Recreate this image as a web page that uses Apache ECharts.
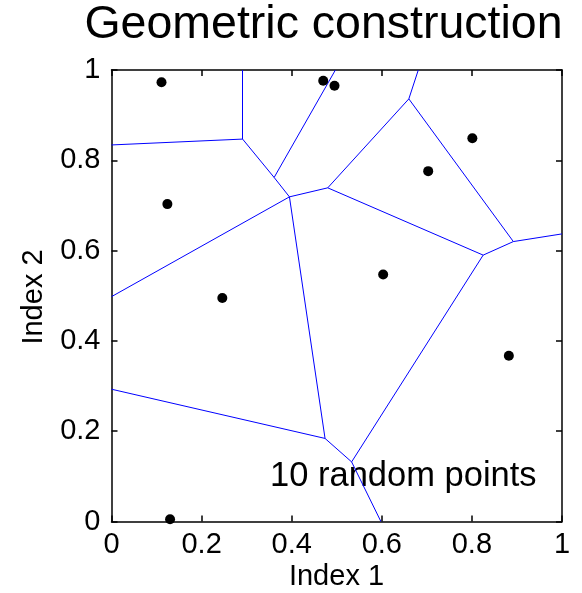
<!DOCTYPE html>
<html>
<head>
<meta charset="utf-8">
<script src="https://cdn.jsdelivr.net/npm/echarts@6/dist/echarts.min.js"></script>
<style>
html,body{margin:0;padding:0;background:#fff;}
#chart{width:582px;height:593px;}
</style>
</head>
<body>
<div id="chart"></div>
<script>
// Random points
var pointsX = [0.111, 0.470, 0.495, 0.124, 0.246, 0.801, 0.703, 0.603, 0.882, 0.130];
var pointsY = [0.973, 0.976, 0.965, 0.703, 0.495, 0.849, 0.776, 0.547, 0.367, 0.005];

// Voronoi vertices (including where edges leave the box)
var vertexX = [0.291, 0.361, 0.395, 0.480, 0.660, 0.892, 0.825, 0.533, 0.474,
               0.291, 0.000, 0.497, 0.681, 1.000, 0.598, 0.000, 0.000];
var vertexY = [0.847, 0.762, 0.719, 0.739, 0.936, 0.620, 0.590, 0.132, 0.184,
               1.000, 0.834, 1.000, 1.000, 0.637, 0.000, 0.293, 0.498];
// Voronoi edges as pairs of vertex indices
var edgeFrom = [9, 10, 0, 1, 1, 2, 3, 4, 3, 4, 5, 6, 6, 7, 7, 8, 8, 2];
var edgeTo   = [0, 0, 1, 11, 2, 3, 4, 12, 6, 5, 13, 5, 7, 14, 8, 15, 2, 16];

var xTicks = [0, 0.2, 0.4, 0.6, 0.8, 1];
var yTicks = [0, 0.2, 0.4, 0.6, 0.8, 1];

var titleText = 'Geometric construction';
var xName = 'Index 1';
var yName = 'Index 2';
var noteText = '10 random points';

var FONT = '"Liberation Sans", Arial, Helvetica, sans-serif';

var pts = pointsX.map(function (x, i) { return [x, pointsY[i]]; });
var edges = edgeFrom.map(function (a, i) {
  var b = edgeTo[i];
  return { coords: [[vertexX[a], vertexY[a]], [vertexX[b], vertexY[b]]] };
});

var chart = echarts.init(document.getElementById('chart'), null, { renderer: 'canvas' });

function axisCommon(showLabel) {
  return {
    type: 'value', min: xTicks[0], max: xTicks[xTicks.length - 1], interval: 0.2,
    axisLine: { show: true, onZero: false, lineStyle: { color: '#000', width: 1.5 } },
    axisTick: { show: true, inside: true, length: 6, lineStyle: { color: '#000', width: 1.5 } },
    splitLine: { show: false },
    axisLabel: {
      show: showLabel, color: '#000', fontSize: 29, fontFamily: FONT, margin: 9,
      formatter: function (v) { return String(+v.toFixed(1)); }
    }
  };
}

var xBottom = axisCommon(true); xBottom.position = 'bottom';
var xTop = axisCommon(false); xTop.position = 'top';
var yLeft = axisCommon(true); yLeft.position = 'left'; yLeft.axisLabel.margin = 11;
var yRight = axisCommon(false); yRight.position = 'right';

chart.setOption({
  backgroundColor: '#fff',
  animation: false,
  grid: { left: 111.5, top: 70, right: 20, bottom: 71.5, containLabel: false },
  xAxis: [xBottom, xTop],
  yAxis: [yLeft, yRight],
  series: [
    {
      type: 'lines', coordinateSystem: 'cartesian2d', xAxisIndex: 0, yAxisIndex: 0,
      polyline: false, silent: true,
      lineStyle: { color: '#0000ff', width: 1, opacity: 1 },
      data: edges, z: 2
    },
    {
      type: 'scatter', xAxisIndex: 0, yAxisIndex: 0,
      symbol: 'circle', symbolSize: 10,
      itemStyle: { color: '#000', opacity: 1 },
      data: pts, z: 3
    }
  ],
  graphic: [
    { type: 'text', x: 323.5, y: 25,
      style: { text: titleText, fill: '#000', font: '46.5px ' + FONT, textAlign: 'center', textVerticalAlign: 'middle' } },
    { type: 'text', x: 336.5, y: 577,
      style: { text: xName, fill: '#000', font: '29px ' + FONT, textAlign: 'center', textVerticalAlign: 'middle' } },
    { type: 'text', x: 34, y: 297, rotation: Math.PI / 2,
      style: { text: yName, fill: '#000', font: '29px ' + FONT, textAlign: 'center', textVerticalAlign: 'middle' } },
    { type: 'text', x: 270, y: 476,
      style: { text: noteText, fill: '#000', font: '34.5px ' + FONT, textAlign: 'left', textVerticalAlign: 'middle' } }
  ]
});
</script>
</body>
</html>
